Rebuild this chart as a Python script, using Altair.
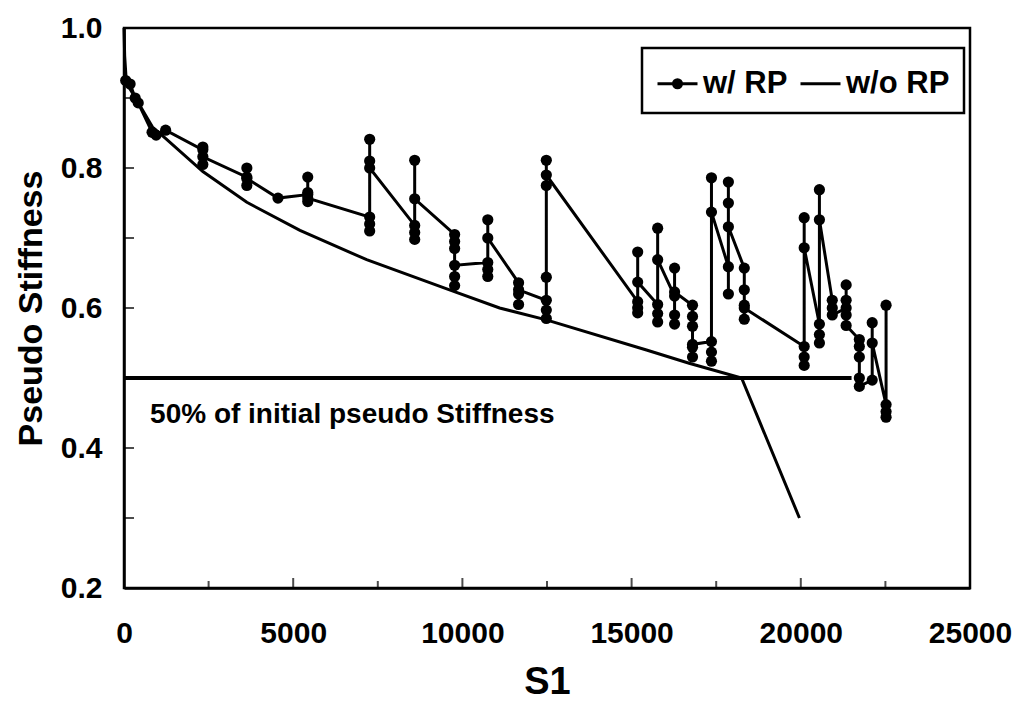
import altair as alt
import pandas as pd

# ---------------- data ----------------
series_names = ["w/ RP", "w/o RP"]

# w/ RP series (in plotting order)
rp_s1 = [50, 180, 330, 420, 830, 950, 1230,
         2330, 2330, 2330, 2330,
         3630, 3630, 3630, 3630,
         4550,
         5430, 5430, 5430, 5430, 5430,
         7260, 7260, 7260, 7260, 7260, 7260,
         8590, 8590, 8590, 8590, 8590,
         9770, 9770, 9770, 9770, 9770, 9770,
         10750, 10750, 10750, 10750, 10750,
         11660, 11660, 11660, 11660,
         12480, 12480, 12480, 12480, 12480, 12480, 12480,
         15180, 15180, 15180, 15180, 15180,
         15770, 15770, 15770, 15770, 15770,
         16270, 16270, 16270, 16270, 16270,
         16800, 16800, 16800, 16800, 16800, 16800,
         17360, 17360, 17360, 17360, 17360,
         17860, 17860, 17860, 17860, 17860,
         18330, 18330, 18330, 18330, 18330,
         20100, 20100, 20100, 20100, 20100,
         20550, 20550, 20550, 20550, 20550,
         20930, 20930, 20930,
         21340, 21340, 21340, 21340, 21340,
         21730, 21730, 21730, 21730, 21730,
         22110, 22110, 22110,
         22520, 22520, 22520, 22520]
rp_ps = [0.925, 0.920, 0.900, 0.893, 0.851, 0.847, 0.854,
         0.826, 0.805, 0.830, 0.816,
         0.787, 0.775, 0.800, 0.785,
         0.757,
         0.762, 0.752, 0.787, 0.765, 0.757,
         0.730, 0.720, 0.710, 0.841, 0.810, 0.800,
         0.718, 0.708, 0.698, 0.811, 0.756,
         0.705, 0.695, 0.685, 0.645, 0.632, 0.661,
         0.665, 0.655, 0.645, 0.726, 0.700,
         0.636, 0.620, 0.605, 0.626,
         0.611, 0.597, 0.585, 0.644, 0.811, 0.775, 0.790,
         0.609, 0.600, 0.593, 0.680, 0.637,
         0.605, 0.592, 0.580, 0.714, 0.669,
         0.617, 0.590, 0.577, 0.657, 0.623,
         0.604, 0.588, 0.574, 0.544, 0.530, 0.548,
         0.552, 0.537, 0.524, 0.786, 0.737,
         0.659, 0.620, 0.780, 0.750, 0.716,
         0.657, 0.626, 0.604, 0.584, 0.600,
         0.545, 0.530, 0.518, 0.729, 0.686,
         0.577, 0.562, 0.550, 0.769, 0.726,
         0.611, 0.600, 0.590,
         0.600, 0.633, 0.611, 0.590, 0.575,
         0.555, 0.545, 0.530, 0.500, 0.488,
         0.497, 0.579, 0.550,
         0.462, 0.452, 0.444, 0.604]

# w/o RP series
wo_s1 = [0, 20, 60, 150, 400, 850, 1210, 2330, 3630, 5200, 7170, 9620,
         11100, 12480, 15440, 16700, 18250, 19960]
wo_ps = [1.0, 0.96, 0.93, 0.915, 0.895, 0.858, 0.843, 0.795, 0.751, 0.711,
         0.669, 0.626, 0.600, 0.583, 0.540, 0.521, 0.500, 0.300]

# 50% threshold line and its note
thr_s1 = [0, 21500]
thr_ps = 0.5
note_text = "50% of initial pseudo Stiffness"
note_s1 = 770
note_ps = 0.447

# axes
x_labels = [0, 5000, 10000, 15000, 20000, 25000]
y_labels = [0.2, 0.4, 0.6, 0.8, 1.0]
x_major_ticks = [5000, 10000, 15000, 20000]
x_minor_ticks = [2500, 7500, 12500, 17500, 22500]
y_ticks = [0.3, 0.4, 0.5, 0.6, 0.7, 0.8, 0.9]
x_domain = [0, 25000]
y_domain = [0.2, 1.0]

# ---------------- frames ----------------
rp_df = pd.DataFrame({"S1": rp_s1, "PS": rp_ps, "series": series_names[0],
                      "idx": list(range(len(rp_s1)))})
wo_df = pd.DataFrame({"S1": wo_s1, "PS": wo_ps, "series": series_names[1],
                      "idx": list(range(len(wo_s1)))})
lines_df = pd.concat([rp_df, wo_df], ignore_index=True)
thr_df = pd.DataFrame({"x0": [thr_s1[0]], "x1": [thr_s1[1]], "PS": [thr_ps]})
note_df = pd.DataFrame({"S1": [note_s1], "PS": [note_ps], "t": [note_text]})
xmaj_df = pd.DataFrame({"S1": x_major_ticks, "PS": y_domain[0]})
xmin_df = pd.DataFrame({"S1": x_minor_ticks, "PS": y_domain[0]})
yt_df = pd.DataFrame({"S1": x_domain[0], "PS": y_ticks})
leg_df = pd.DataFrame({"series": series_names, "S1": x_domain[0], "PS": y_domain[1]})

FONT = "Liberation Sans"
xs = alt.Scale(domain=x_domain, nice=False, zero=False)
ys = alt.Scale(domain=y_domain, nice=False, zero=False)

x_axis = alt.Axis(values=x_labels, format="d", labelFontSize=30, ticks=False,
                  grid=False, labelPadding=30, labelFlush=False,
                  title="S1", titleFontSize=38, titlePadding=15)
y_axis = alt.Axis(values=y_labels, format=".1f", labelFontSize=30, ticks=False,
                  grid=False, labelPadding=22, labelFlush=False,
                  title="Pseudo Stiffness", titleFontSize=34, titlePadding=12)

base_x = alt.X("S1:Q", scale=xs, axis=x_axis)
base_y = alt.Y("PS:Q", scale=ys, axis=y_axis)

lines = alt.Chart(lines_df).mark_line(color="black", strokeWidth=3).encode(
    x=base_x, y=base_y, detail="series:N", order="idx:Q")

points = alt.Chart(rp_df).mark_circle(color="black", size=125, opacity=1).encode(
    x="S1:Q", y="PS:Q")

thr = alt.Chart(thr_df).mark_rule(color="black", strokeWidth=4).encode(
    x="x0:Q", x2="x1:Q", y="PS:Q")

note = alt.Chart(note_df).mark_text(align="left", baseline="middle", fontSize=28,
                                   fontWeight="bold", color="black", font=FONT).encode(
    x="S1:Q", y="PS:Q", text="t:N")

xmaj = alt.Chart(xmaj_df).mark_tick(orient="vertical", size=10, thickness=2,
                                    color="black", yOffset=-5).encode(x="S1:Q", y="PS:Q")
xmin = alt.Chart(xmin_df).mark_tick(orient="vertical", size=7, thickness=2,
                                    color="black", yOffset=-3.5).encode(x="S1:Q", y="PS:Q")
ytk = alt.Chart(yt_df).mark_tick(orient="horizontal", size=10, thickness=2,
                                 color="black", xOffset=5).encode(x="S1:Q", y="PS:Q")

# legend symbols drawn with strokes only: a line with a filled-looking dot, and a plain line
dot_line = ("M-1,0L1,0"
            "M-0.2,0A0.2,0.2,0,1,1,0.2,0A0.2,0.2,0,1,1,-0.2,0"
            "M-0.1,0A0.1,0.1,0,1,1,0.1,0A0.1,0.1,0,1,1,-0.1,0"
            "M-0.03,0L0.03,0")
plain_line = "M-1,0L1,0"
legend_layer = alt.Chart(leg_df).mark_point(filled=False, opacity=0, color="black",
                                            strokeWidth=3).encode(
    x="S1:Q", y="PS:Q",
    shape=alt.Shape("series:N",
                    scale=alt.Scale(domain=series_names, range=[dot_line, plain_line]),
                    legend=alt.Legend(title=None, orient="none", legendX=518, legendY=20,
                                      direction="horizontal", columns=2,
                                      strokeColor="black", padding=14,
                                      labelFontSize=31, labelColor="black",
                                      labelFontWeight="bold",
                                      symbolSize=1600, symbolStrokeWidth=3,
                                      symbolStrokeColor="black",
                                      symbolOpacity=1, labelOffset=4, columnPadding=6)))

chart = alt.layer(thr, lines, points, note, xmaj, xmin, ytk, legend_layer).properties(
    width=846, height=560,
    autosize=alt.AutoSizeParams(type="none"),
    padding={"left": 116, "top": 20, "right": 52, "bottom": 114},
    background="white",
).configure(font=FONT).configure_view(
    stroke="black", strokeWidth=2.5
).configure_axis(
    domainColor="black", domainWidth=2.5, labelColor="black", titleColor="black",
    labelFont=FONT, titleFont=FONT, labelFontWeight="bold", titleFontWeight="bold"
).configure_legend(strokeWidth=2.5, labelFont=FONT)

chart.save("out.html", embed_options={"renderer": "svg", "actions": False})
